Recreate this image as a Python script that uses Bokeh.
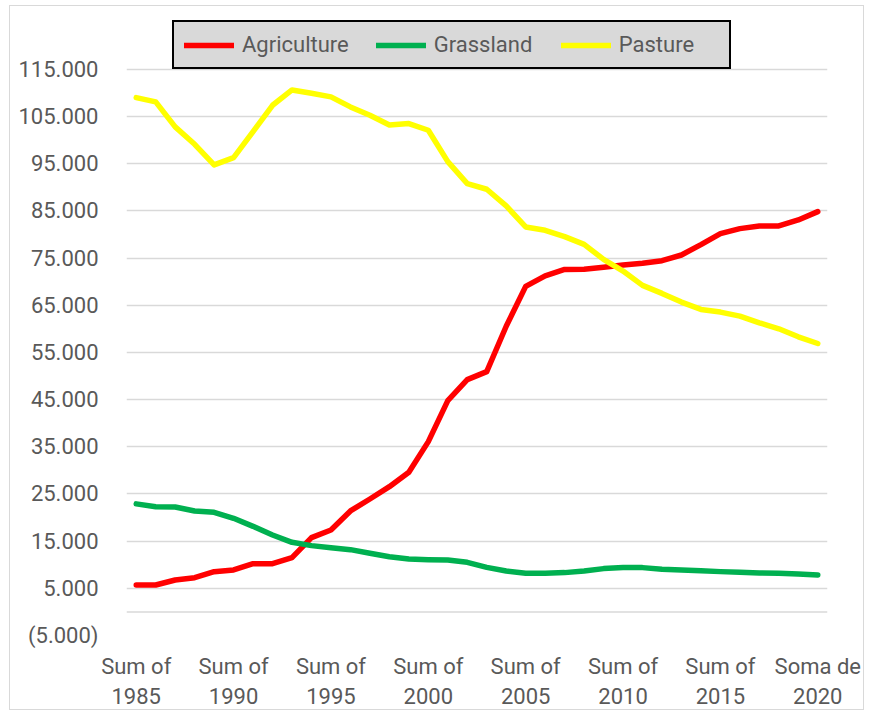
from bokeh.plotting import figure
from bokeh.models import FixedTicker, Legend, LegendItem, Span
from bokeh.embed import file_html
from bokeh.resources import INLINE

years = list(range(1985, 2021))

agriculture = [5700, 5700, 6770, 7260, 8530, 8890, 10230, 10230, 11500, 15740,
               17370, 21400, 23940, 26550, 29590, 36100, 44790, 49240, 50940, 60550,
               69000, 71250, 72600, 72620, 73040, 73530, 73890, 74450, 75660, 77850,
               80190, 81250, 81820, 81820, 83090, 84860]

grassland = [22900, 22310, 22240, 21400, 21110, 19840, 18140, 16310, 14750, 14050,
             13620, 13200, 12420, 11710, 11220, 11080, 11000, 10510, 9450, 8670,
             8200, 8200, 8330, 8680, 9180, 9390, 9390, 9030, 8890, 8750,
             8540, 8400, 8260, 8180, 8040, 7830]

pasture = [109030, 108110, 102810, 99130, 94750, 96310, 101820, 107400, 110650, 109950,
           109170, 107050, 105280, 103230, 103520, 102100, 95460, 90800, 89600, 86060,
           81600, 80900, 79550, 77920, 74740, 72260, 69220, 67520, 65680, 64120,
           63560, 62710, 61290, 60020, 58320, 56900]

x_ticks = [1985, 1990, 1995, 2000, 2005, 2010, 2015, 2020]
x_tick_labels = ["Sum of\n1985", "Sum of\n1990", "Sum of\n1995", "Sum of\n2000",
                 "Sum of\n2005", "Sum of\n2010", "Sum of\n2015", "Soma de\n2020"]

y_ticks = [-5000, 5000, 15000, 25000, 35000, 45000, 55000, 65000, 75000, 85000,
           95000, 105000, 115000]
y_tick_labels = ["(5.000)", "5.000", "15.000", "25.000", "35.000", "45.000", "55.000",
                 "65.000", "75.000", "85.000", "95.000", "105.000", "115.000"]

series_names = ["Agriculture", "Grassland", "Pasture"]
series_colors = ["#FF0000", "#00B050", "#FFFF00"]

FONT = "Roboto"
TEXT_COLOR = "#595959"
GRID_COLOR = "#d9d9d9"

# frame extends above the top gridline to host the legend (no ticks there)
p = figure(width=855, height=705, output_backend="svg", toolbar_location=None,
           x_range=(1984.5, 2020.5), y_range=(-5000, 125794),
           min_border_left=116, min_border_right=38,
           min_border_top=12, min_border_bottom=75)

p.outline_line_color = None
p.background_fill_color = "white"
p.border_fill_color = "white"
p.styles = {"border": "1px solid #d9d9d9", "margin-left": "9px", "margin-top": "5px"}

p.xgrid.visible = False
p.ygrid.ticker = FixedTicker(ticks=y_ticks)
p.ygrid.grid_line_color = GRID_COLOR
p.ygrid.grid_line_width = 1.5

zero_line = Span(location=0, dimension="width", line_color=GRID_COLOR,
                 line_width=1.5, level="underlay")
p.add_layout(zero_line)

p.xaxis.ticker = FixedTicker(ticks=x_ticks)
p.xaxis.major_label_overrides = dict(zip(x_ticks, x_tick_labels))
p.yaxis.ticker = FixedTicker(ticks=y_ticks)
p.yaxis.major_label_overrides = dict(zip(y_ticks, y_tick_labels))

for ax in (p.xaxis, p.yaxis):
    ax.axis_line_color = None
    ax.major_tick_line_color = None
    ax.minor_tick_line_color = None
    ax.major_tick_out = 0
    ax.major_tick_in = 0
    ax.major_label_text_font = FONT
    ax.major_label_text_font_size = "22px"
    ax.major_label_text_color = TEXT_COLOR

p.xaxis.major_label_standoff = 18
p.yaxis.major_label_standoff = 28

renderers = []
for vals, color in zip([agriculture, grassland, pasture], series_colors):
    r = p.line(years, vals, line_color=color, line_width=5.5,
               line_cap="round", line_join="round")
    renderers.append(r)

legend = Legend(
    items=[LegendItem(label=n, renderers=[r]) for n, r in zip(series_names, renderers)],
    orientation="horizontal",
    location=(46, 566),
    margin=0,
    background_fill_color="#d9d9d9", background_fill_alpha=1.0,
    border_line_color="black", border_line_width=2, border_line_alpha=1.0,
    label_text_font=FONT, label_text_font_size="22px", label_text_color=TEXT_COLOR,
    glyph_width=50, glyph_height=22, label_height=22, label_width=100,
    label_standoff=8, spacing=27, padding=10,
)
p.add_layout(legend)

open("out.html", "w").write(file_html(p, INLINE))
